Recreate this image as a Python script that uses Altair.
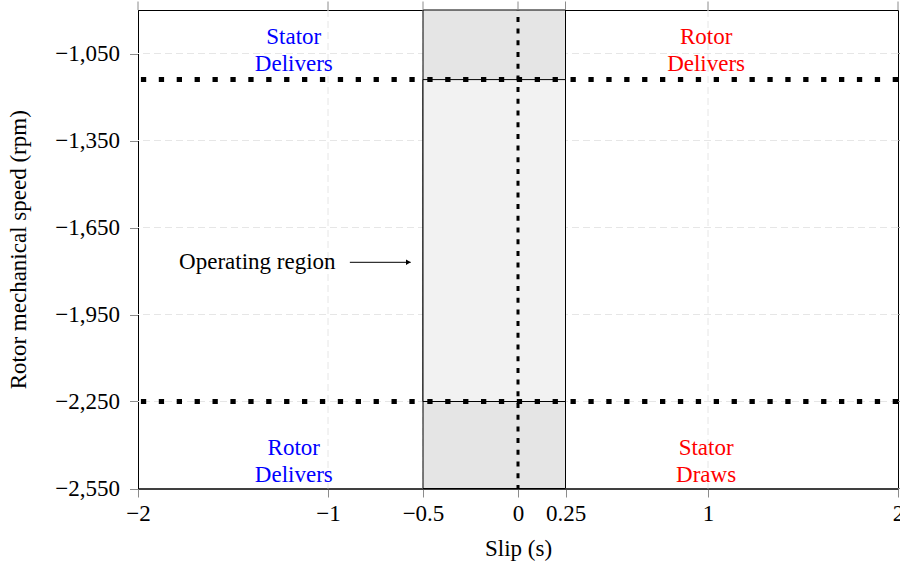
import altair as alt
import pandas as pd

FONT = "Liberation Serif"

# ---- data ----
x_domain = [-2, 2]
y_domain = [-2550, -900]
x_ticks = [-2, -1, -0.5, 0, 0.25, 1, 2]
y_ticks = [-2550, -2250, -1950, -1650, -1350, -1050]

region_slip = [-0.5, 0.25]          # operating region (slip)
limit_speeds = [-2250, -1140]       # speed limits (rpm)
zero_slip = [0]

quad_text = ["Stator\nDelivers", "Rotor\nDelivers", "Rotor\nDelivers", "Stator\nDraws"]
quad_x = [-1.18, 0.99, -1.18, 0.99]
quad_y = [-993, -993, -2410, -2410]
quad_color = ["#0000ff", "#ff0000", "#0000ff", "#ff0000"]

annot_text = ["Operating region"]
annot_x = [-0.96]
annot_y = [-1770]
arrow_x = [-0.885, -0.565]

xs = alt.Scale(domain=x_domain, nice=False, zero=False)
ys = alt.Scale(domain=y_domain, nice=False, zero=False)

outer_df = pd.DataFrame({"x": [region_slip[0]], "x2": [region_slip[1]],
                         "y": [y_domain[0]], "y2": [y_domain[1]]})
inner_df = pd.DataFrame({"x": [region_slip[0]], "x2": [region_slip[1]],
                         "y": [limit_speeds[0]], "y2": [limit_speeds[1]]})
hl_df = pd.DataFrame({"y": limit_speeds})
vl_df = pd.DataFrame({"x": zero_slip})
quad_df = pd.DataFrame({"t": quad_text, "x": quad_x, "y": quad_y, "c": quad_color})
annot_df = pd.DataFrame({"t": annot_text, "x": annot_x, "y": annot_y})
arrow_df = pd.DataFrame({"x": [arrow_x[0]], "x2": [arrow_x[1]], "y": annot_y})
head_df = pd.DataFrame({"x": [arrow_x[1] - 0.012], "y": annot_y})
xt_df = pd.DataFrame({"x": x_ticks})
yt_df = pd.DataFrame({"y": y_ticks})
xgrid_df = pd.DataFrame({"x": [v for v in x_ticks if x_domain[0] < v < x_domain[1]]})
ygrid_df = pd.DataFrame({"y": [v for v in y_ticks if y_domain[0] < v < y_domain[1]]})

x_axis = alt.Axis(values=x_ticks, labelExpr="format(datum.value, '~g')", title="Slip (s)",
                  grid=False, labelPadding=5, titlePadding=12, labelFlush=False,
                  domain=True, domainColor="black", domainWidth=1)
y_axis = alt.Axis(values=y_ticks, labelExpr="format(datum.value, ',')",
                  title="Rotor mechanical speed (rpm)",
                  grid=False, labelPadding=10, titlePadding=24, labelFlush=False,
                  domain=True, domainColor="black", domainWidth=1)


def X(f="x:Q"):
    return alt.X(f, scale=xs, axis=x_axis)


def Y(f="y:Q"):
    return alt.Y(f, scale=ys, axis=y_axis)


GRID = dict(color="#e6e6e6", strokeWidth=1, strokeDash=[7, 4])

xgrid = alt.Chart(xgrid_df).mark_rule(**GRID).encode(x=X())
ygrid = alt.Chart(ygrid_df).mark_rule(**GRID).encode(y=Y())

outer = alt.Chart(outer_df).mark_rect(fill="#e5e5e5", stroke="black", strokeWidth=1).encode(
    x=X(), x2="x2:Q", y=Y(), y2="y2:Q")

inner = alt.Chart(inner_df).mark_rect(fill="#f2f2f2", stroke="black", strokeWidth=1).encode(
    x=X(), x2="x2:Q", y=Y(), y2="y2:Q")

hlines = alt.Chart(hl_df).mark_rule(color="black", strokeWidth=5, strokeDash=[5.3, 12.6],
                                    strokeCap="butt").encode(y=Y())

vline = alt.Chart(vl_df).mark_rule(color="black", strokeWidth=3, strokeDash=[5, 6.7],
                                   strokeCap="butt", strokeDashOffset=4.8).encode(x=X())

quad = alt.Chart(quad_df).mark_text(font=FONT, fontSize=23, lineBreak="\n", lineHeight=27,
                                    align="center", baseline="middle").encode(
    x=X(), y=Y(), text="t:N", color=alt.Color("c:N", scale=None))

annot = alt.Chart(annot_df).mark_text(font=FONT, fontSize=23, align="right",
                                      baseline="middle", color="black").encode(
    x=X(), y=Y(), text="t:N")

arrow = alt.Chart(arrow_df).mark_rule(color="black", strokeWidth=1).encode(
    x=X(), x2="x2:Q", y=Y())

head = alt.Chart(head_df).mark_point(shape="triangle-right", filled=True, color="black",
                                     size=30, opacity=1).encode(x=X(), y=Y())

top_ticks = alt.Chart(xt_df).mark_rule(color="#8c8c8c", strokeWidth=1, clip=False).encode(
    x=X(), y=alt.value(-8.5), y2=alt.value(0))

right_ticks = alt.Chart(yt_df).mark_rule(color="#8c8c8c", strokeWidth=1, clip=False).encode(
    y=Y(), x=alt.value(760), x2=alt.value(768.5))

chart = alt.layer(xgrid, ygrid, outer, inner, hlines, vline, quad, annot, arrow, head,
                  top_ticks, right_ticks).properties(
    width=760, height=478.5,
    autosize=alt.AutoSizeParams(type="none"),
    padding={"left": 138, "top": 10, "right": 2, "bottom": 77.5},
).configure_view(stroke="black", strokeWidth=1).configure_axis(
    labelFont=FONT, labelFontSize=23, labelColor="black",
    titleFont=FONT, titleFontSize=23, titleFontWeight="normal", titleColor="black",
    tickColor="#8c8c8c", tickSize=8.5, tickWidth=1,
)

chart.save("out.html", embed_options={"renderer": "svg", "actions": False})
